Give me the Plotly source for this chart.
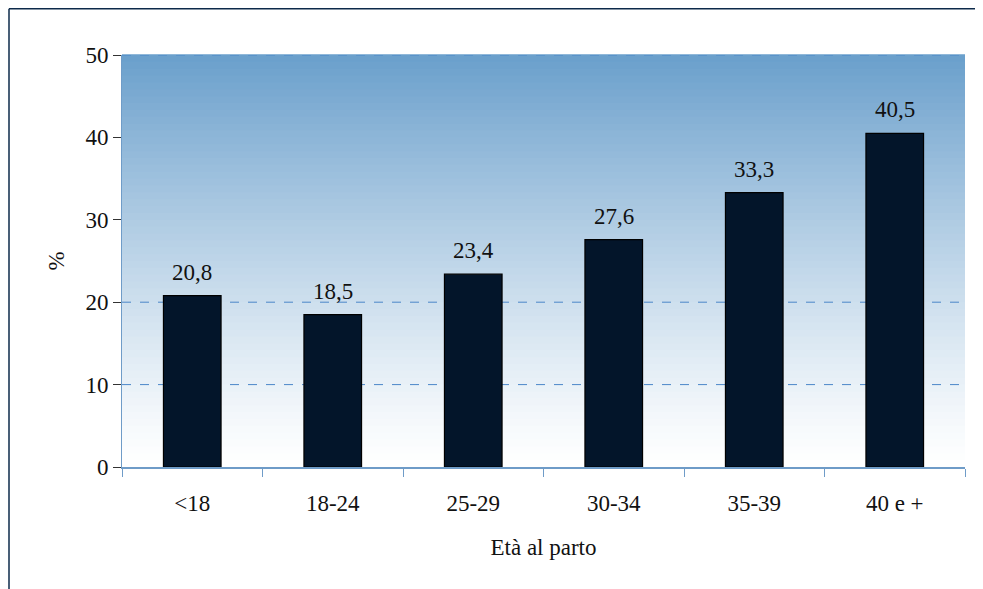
import plotly.graph_objects as go

categories = ["<18", "18-24", "25-29", "30-34", "35-39", "40 e +"]
values = [20.8, 18.5, 23.4, 27.6, 33.3, 40.5]
labels = [f"{v:.1f}".replace(".", ",") for v in values]
y_ticks = [0, 10, 20, 30, 40, 50]
grid_vals = [10, 20, 50]

font = "Liberation Serif, Times New Roman, serif"
FS = 23

fig = go.Figure()
fig.add_trace(go.Bar(
    x=categories, y=values,
    marker=dict(color="#03152a", line=dict(color="#000000", width=1.2)),
    width=0.41,
))
for c, v, t in zip(categories, values, labels):
    fig.add_annotation(x=c, y=v, text=t, showarrow=False, yanchor="bottom",
                       yshift=9, font=dict(family=font, size=FS, color="#111111"))

# vertical gradient background (blue top -> white bottom)
top = (106, 159, 203)
bot = (255, 255, 255)
n = 60
shapes = []
for i in range(n):
    t = (i + 0.5) / n
    f = t ** 1.2
    c = tuple(round(bot[k] + (top[k] - bot[k]) * f) for k in range(3))
    shapes.append(dict(type="rect", xref="x domain", yref="y domain",
                       x0=0, x1=1, y0=i / n, y1=(i + 1) / n + 0.002,
                       fillcolor=f"rgb{c}", line=dict(width=0), layer="below"))
for g in grid_vals:
    shapes.append(dict(type="line", xref="x domain", yref="y", x0=0, x1=1,
                       y0=g, y1=g, layer="below",
                       line=dict(color="#4a86c8", width=1, dash="dash")))
# outer frame lines
fx = (1 - 114) / 843
fy = (459 - 0.75) / 412
shapes.append(dict(type="line", xref="paper", yref="paper",
                   x0=fx, x1=1.05, y0=fy, y1=fy,
                   line=dict(color="#0d2a4a", width=1.5)))
shapes.append(dict(type="line", xref="paper", yref="paper",
                   x0=fx, x1=fx, y0=-0.4, y1=fy,
                   line=dict(color="#0d2a4a", width=1.5)))

fig.update_layout(
    width=983, height=589,
    margin=dict(l=114, r=26, t=47, b=130),
    paper_bgcolor="white", plot_bgcolor="rgba(0,0,0,0)",
    shapes=shapes, showlegend=False, bargap=0.59,
    font=dict(family=font, size=FS, color="#111111"),
)
fig.update_yaxes(
    range=[0, 50], tickvals=y_ticks, ticks="outside", ticklen=8,
    tickcolor="#333333", showline=True, linecolor="#6f9cc8", linewidth=1,
    showgrid=False, zeroline=False,
    tickfont=dict(family=font, size=FS, color="#111111"),
    title=dict(text="%", font=dict(family=font, size=FS, color="#111111"), standoff=14),
)
fig.update_xaxes(
    ticks="outside", tickson="boundaries", ticklen=8, tickcolor="#6f9cc8",
    showline=True, linecolor="#6f9cc8", linewidth=1.5, ticklabelstandoff=15,
    tickfont=dict(family=font, size=FS, color="#111111"),
    title=dict(text="Età al parto", font=dict(family=font, size=FS, color="#111111"), standoff=24),
)

fig.write_html("out.html")
